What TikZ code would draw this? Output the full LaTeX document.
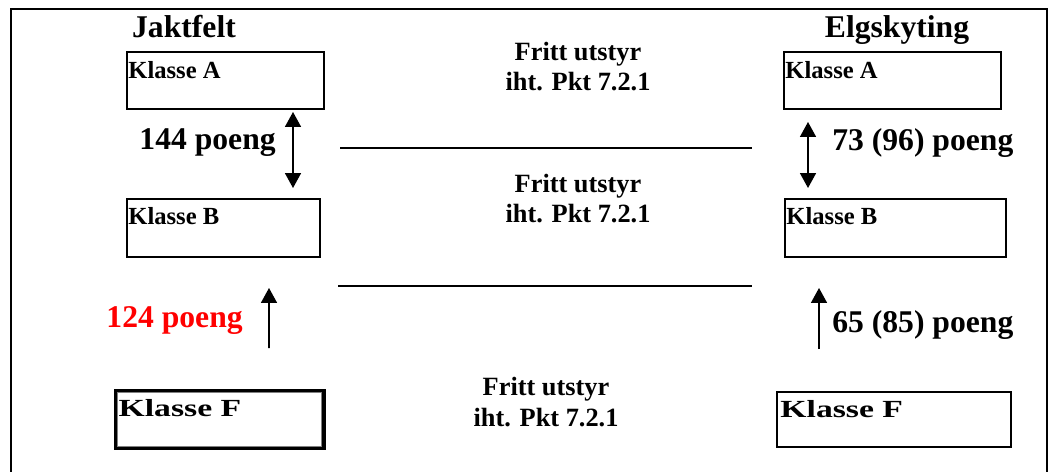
\documentclass[tikz,border=0pt]{standalone}
\usepackage{fontspec}
\setmainfont{Liberation Serif}
\usetikzlibrary{arrows.meta, calc}

\tikzset{
  klasse/.style={draw, line width=1.1pt, inner sep=0pt},
  kltext/.style={anchor=base west, inner sep=0pt, font=\bfseries\fontsize{14}{16}\selectfont},
  tittel/.style={anchor=base, inner sep=0pt, font=\bfseries\fontsize{18}{21}\selectfont},
  poeng/.style={inner sep=0pt, font=\bfseries\fontsize{18}{21}\selectfont},
  utstyr/.style={anchor=base, align=center, inner sep=0pt, font=\bfseries\fontsize{15}{17.6}\selectfont},
  pil/.style={line width=1.1pt, -{Triangle[width=9pt, length=8.5pt]}},
  dpil/.style={line width=1.1pt, {Triangle[width=9pt, length=8.5pt]}-{Triangle[width=9pt, length=8.5pt]}}
}

\begin{document}
\begin{tikzpicture}[x=0.02cm, y=-0.02cm]
        \useasboundingbox (0,0) rectangle (1053,472);

        % Draw the frame
        \draw[line width=1pt] (11,490) -- (11,9) -- (1047,9) -- (1047,490);

        % Draw the titles
        \node[tittel] (jakt) at (184,38) {Jaktfelt};
        \node[tittel] (elg) at (897,38) {Elgskyting};

        % Draw the boxes on the left
        \node[klasse, minimum width=3.94cm, minimum height=1.14cm] (jA) at (225.5,80.5) {};
        \node[klasse, minimum width=3.86cm, minimum height=1.16cm] (jB) at (223.5,228) {};
        \node[klasse, line width=2pt, minimum width=4.16cm, minimum height=1.14cm] (jF) at (220,419.5) {};
        \draw[gray, thin] ([shift={(3,3)}]jF.north west) rectangle ([shift={(-4,-3)}]jF.south east);

        % Draw the boxes on the right
        \node[klasse, minimum width=4.34cm, minimum height=1.14cm] (eA) at (892.5,80.5) {};
        \node[klasse, minimum width=4.42cm, minimum height=1.16cm] (eB) at (895.5,228) {};
        \node[klasse, minimum width=4.68cm, minimum height=1.10cm] (eF) at (894,419.5) {};

        % Box texts
        \node[kltext] (jAt) at ([shift={(2,27)}]jA.north west) {Klasse A};
        \node[kltext] (jBt) at ([shift={(2,26)}]jB.north west) {Klasse B};
        \node[kltext] (jFt) at ([shift={(4,27)}]jF.north west) {\scalebox{1.37}[1]{Klasse F}};
        \node[kltext] (eAt) at ([shift={(2,27)}]eA.north west) {Klasse A};
        \node[kltext] (eBt) at ([shift={(2,26)}]eB.north west) {Klasse B};
        \node[kltext] (eFt) at ([shift={(4,26)}]eF.north west) {\scalebox{1.37}[1]{Klasse F}};

        % Draw the arrows
        \draw[dpil] ([shift={(67.5,2)}]jA.south) -- ([shift={(69.5,-10)}]jB.north);
        \draw[dpil] ([shift={(-84.5,12)}]eA.south) -- ([shift={(-87.5,-10)}]eB.north);
        \draw[pil] ([shift={(49,-41)}]jF.north) -- ([shift={(45.5,30)}]jB.south);
        \draw[pil] ([shift={(-75,-42)}]eF.north) -- ([shift={(-76.5,30)}]eB.south);

        % Points
        \node[poeng, anchor=base east] (p144) at (276,150) {144 poeng};
        \node[poeng, anchor=base west] (p73) at (832,151) {73 (96) poeng};
        \node[poeng, anchor=base east, red] (p124) at (243,328) {124 poeng};
        \node[poeng, anchor=base west] (p65) at (832,333) {65 (85) poeng};

        % Draw the separators
        \draw[line width=1pt] (340,148) -- (752,148);
        \draw[line width=1pt] (338,286) -- (752,286);

        % Equipment notes
        \node[utstyr] (u1) at (578,91) {Fritt utstyr\\iht. Pkt 7.2.1};
        \node[utstyr] (u2) at (578,223) {Fritt utstyr\\iht. Pkt 7.2.1};
        \node[utstyr] (u3) at (546,426) {Fritt utstyr\\iht. Pkt 7.2.1};
    \end{tikzpicture}
\end{document}
